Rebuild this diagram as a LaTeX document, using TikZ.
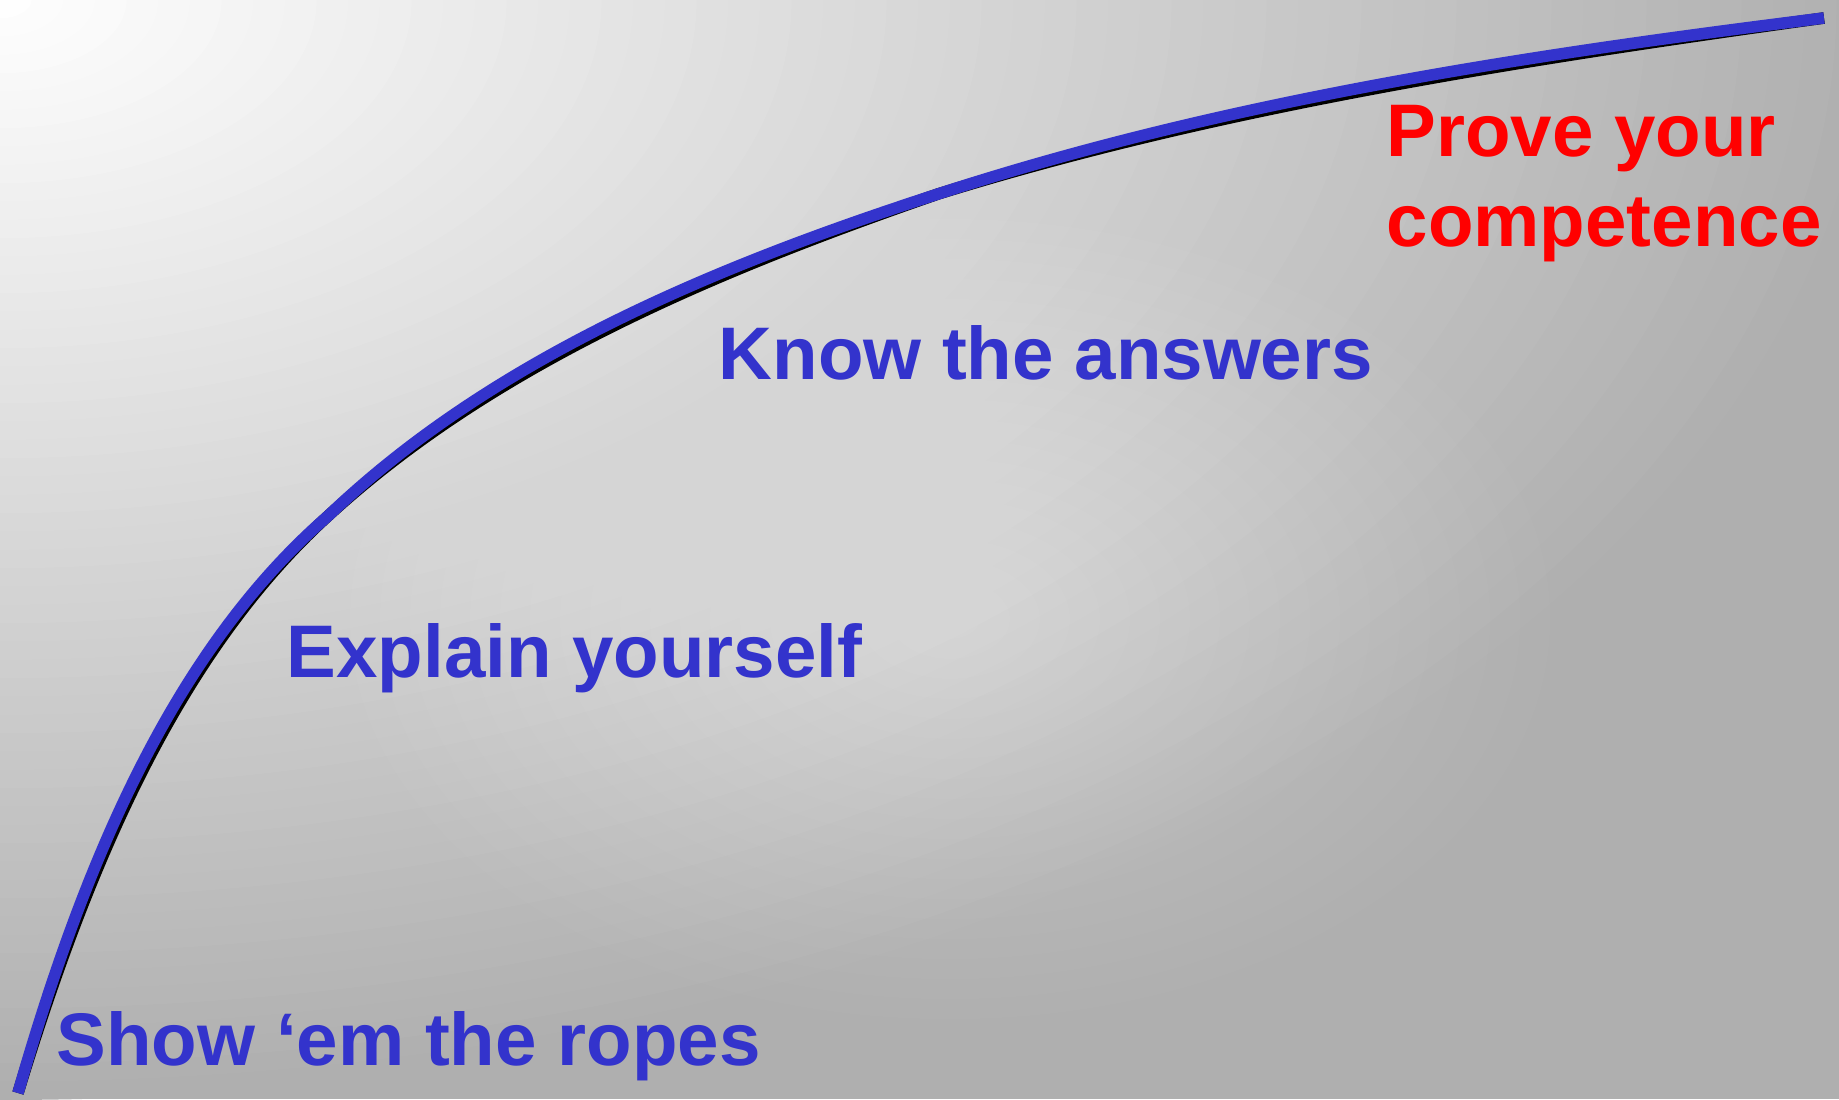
\documentclass[tikz,border=0pt]{standalone}
\usepackage{fontspec}
\setmainfont{Liberation Sans}
\definecolor{bggray}{RGB}{175,175,175}
\definecolor{curveblue}{RGB}{51,51,204}
\definecolor{provered}{RGB}{255,0,0}

\begin{document}
\begin{tikzpicture}[
    stage/.style={anchor=base west, inner sep=0, text=curveblue,
                  font=\fontsize{21.2}{25}\selectfont\bfseries},
    goal/.style={anchor=north west, inner sep=0, text=provered, align=left,
                 font=\fontsize{21.2}{25.5}\selectfont\bfseries},
    curve/.style={line width=3.3pt, line cap=butt, line join=round}]

    % background: glow from the top left corner, soft light patch in the middle
    \useasboundingbox (0,0) rectangle (18.39,10.99);
    \fill[bggray] (0,0) rectangle (18.39,10.99);
    \begin{scope}
        \clip (0,0) rectangle (18.39,10.99);
        \foreach \i [evaluate=\i as \mix using 100*\i/60] in {60,59,...,1}
            \fill[bggray!\mix!white] (0,10.99) ellipse ({19*\i/60} and {11*\i/60});
        \foreach \i in {20,19,...,1}
            \fill[white, opacity=0.025] (9.5,4.8) ellipse ({6*\i/20} and {4*\i/20});
    \end{scope}

    % learning curve, shadow first
    \coordinate (c0) at (0.18,0.06);
    \coordinate (c1) at (3.28,5.83);
    \coordinate (c2) at (9.38,9.05);
    \coordinate (c3) at (18.24,10.81);
    \foreach \col/\dx/\dy in {black/0.03/-0.04, curveblue/0/0}
        \draw[curve, \col, shift={(\dx,\dy)}] (c0)
            .. controls (0.85,2.40) and (1.75,4.50) .. (c1)
            .. controls (4.94,7.42) and (7.19,8.34) .. (c2)
            .. controls (12.23,9.98) and (15.26,10.44) .. (c3);

    \node[stage] (ropes) at (0.56,0.34) {Show ‘em the ropes};
    \node[stage] (explain) at (2.86,4.22) {Explain yourself};
    \node[stage] (answers) at (7.18,7.20) {Know the answers};
    \node[goal] (prove) at (13.86,9.94) {Prove your\\competence};
\end{tikzpicture}
\end{document}
